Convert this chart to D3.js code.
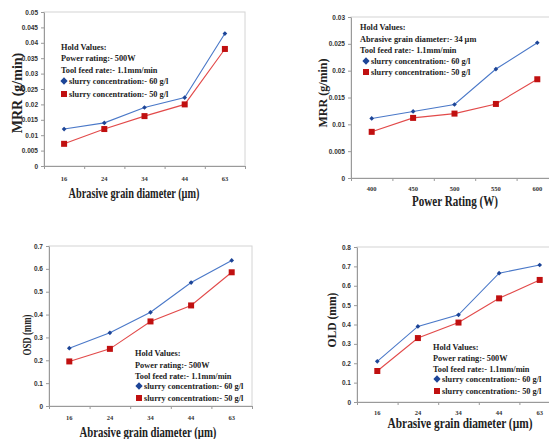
<!DOCTYPE html>
<html>
<head>
<meta charset="utf-8">
<script src="https://cdn.jsdelivr.net/npm/d3@7"></script>
<style>
  body { margin: 0; background: #fff; }
  svg { display: block; font-family: "Liberation Serif", "DejaVu Serif", serif; font-weight: bold; }
</style>
</head>
<body>
<div id="chart"></div>
<script>
const W = 549, H = 439

// data
const grainSizes = ["16", "24", "34", "44", "63"]
const powerRatings = ["400", "450", "500", "550", "600"]

const mrrGrain60 = [0.012, 0.014, 0.019, 0.0222, 0.043]
const mrrGrain50 = [0.0072, 0.012, 0.0162, 0.020, 0.038]
const mrrPower60 = [0.0111, 0.0124, 0.0137, 0.0203, 0.0252]
const mrrPower50 = [0.0086, 0.0112, 0.0120, 0.0138, 0.0184]
const osd60 = [0.253, 0.32, 0.41, 0.54, 0.637]
const osd50 = [0.195, 0.25, 0.37, 0.44, 0.585]
const old60 = [0.21, 0.39, 0.45, 0.665, 0.707]
const old50 = [0.16, 0.33, 0.41, 0.535, 0.63]

const seriesNames = ["slurry concentration:- 60 g/l", "slurry concentration:- 50 g/l"]
const holdGrain = ["Hold Values:", "Power rating:- 500W", "Tool feed rate:- 1.1mm/min"]
const holdPower = ["Hold Values:", "Abrasive grain diameter:- 34 µm", "Tool feed rate:- 1.1mm/min"]

const BLUE_LINE = "#4a78c8", BLUE_MARK = "#1d4597"
const RED_LINE = "#e24a4a", RED_MARK = "#c01010"

const svg = d3.select("#chart").append("svg")
    .attr("width", W)
    .attr("height", H)

function fmt(d) {
    return d === 0 ? "0" : String(+d.toFixed(3))
}

// squeeze a title horizontally to the width seen in the figure
function squeezedTitle(g, label, cx, cy, len, fs, rot) {
    const t = g.append("text")
        .attr("text-anchor", "middle")
        .attr("font-size", fs)
        .attr("fill", "#222")
        .text(label)
    const sx = Math.min(1, len / t.node().getComputedTextLength())
    t.attr("transform", `translate(${cx},${cy})${rot ? " rotate(-90)" : ""} scale(${sx},1)`)
}

function drawPanel(p) {
    const g = svg.append("g")

    const x = d3.scaleBand().domain(p.cats).range([p.x0, p.x1]).padding(0)
    const xi = d3.scaleLinear().domain([0, p.cats.length]).range([p.x0, p.x1])
    const y = d3.scaleLinear().domain([0, p.yMax]).range([p.y1, p.y0])

    // plot frame
    g.append("rect")
        .attr("x", p.x0).attr("y", p.y0)
        .attr("width", p.x1 - p.x0).attr("height", p.y1 - p.y0)
        .attr("fill", "none").attr("stroke", "#d4d4d4").attr("stroke-width", 1)

    const yAxis = g.append("g")
        .attr("transform", `translate(${p.x0},0)`)
        .call(d3.axisLeft(y).tickValues(d3.range(0, p.yMax + p.yStep / 2, p.yStep)).tickSize(3).tickSizeOuter(0).tickFormat(fmt))
    yAxis.selectAll("text").attr("font-size", 6.5).attr("fill", "#333").attr("x", -6)

    g.append("g")
        .attr("transform", `translate(0,${p.y1})`)
        .call(d3.axisBottom(xi).ticks(p.cats.length).tickSize(3).tickSizeOuter(0).tickFormat(""))

    g.selectAll(".domain, .tick line").attr("stroke", "#9a9a9a")

    g.append("g").selectAll("text")
        .data(p.cats)
        .join("text")
        .attr("x", d => x(d) + x.bandwidth() / 2)
        .attr("y", p.tickY)
        .attr("text-anchor", "middle")
        .attr("font-size", 6.5)
        .attr("fill", "#333")
        .text(d => d)

    // axis titles
    squeezedTitle(g, p.xLabel, p.xTitle[0], p.xTitle[1], p.xTitle[2], p.xTitle[3], false)
    squeezedTitle(g, p.yLabel, p.yTitle[0], p.yTitle[1], p.yTitle[2], p.yTitle[3], true)

    const line = d3.line()
        .x((d, i) => x(p.cats[i]) + x.bandwidth() / 2)
        .y(d => y(d))

    // 50 g/l series
    g.append("path").datum(p.s50)
        .attr("d", line).attr("fill", "none")
        .attr("stroke", RED_LINE).attr("stroke-width", 1.1)
    g.append("g").selectAll("rect")
        .data(p.s50)
        .join("rect")
        .attr("x", (d, i) => x(p.cats[i]) + x.bandwidth() / 2 - 3)
        .attr("y", d => y(d) - 3)
        .attr("width", 6).attr("height", 6)
        .attr("fill", RED_MARK)

    // 60 g/l series
    g.append("path").datum(p.s60)
        .attr("d", line).attr("fill", "none")
        .attr("stroke", BLUE_LINE).attr("stroke-width", 1.1)
    g.append("g").selectAll("path")
        .data(p.s60)
        .join("path")
        .attr("d", d3.symbol(d3.symbolDiamond2, 14))
        .attr("transform", (d, i) => `translate(${x(p.cats[i]) + x.bandwidth() / 2},${y(d)})`)
        .attr("fill", BLUE_MARK)

    // hold values / legend
    const lg = g.append("g").attr("font-size", 8.3).attr("fill", "#222")
    lg.selectAll("text.hold")
        .data(p.hold)
        .join("text")
        .attr("class", "hold")
        .attr("x", p.legX)
        .attr("y", (d, i) => p.legY[i] + 3)
        .text(d => d)

    lg.append("path")
        .attr("d", d3.symbol(d3.symbolDiamond2, 34))
        .attr("transform", `translate(${p.markX},${p.legY[3]})`)
        .attr("fill", BLUE_MARK)
    lg.append("rect")
        .attr("x", p.markX - 3).attr("y", p.legY[4] - 3)
        .attr("width", 6).attr("height", 6)
        .attr("fill", RED_MARK)
    lg.selectAll("text.ser")
        .data(seriesNames)
        .join("text")
        .attr("class", "ser")
        .attr("x", p.markX + 5)
        .attr("y", (d, i) => p.legY[3 + i] + 3)
        .text(d => d)
}

drawPanel({
    cats: grainSizes, s60: mrrGrain60, s50: mrrGrain50,
    x0: 44, x1: 245, y0: 12, y1: 166, yMax: 0.05, yStep: 0.005, tickY: 181,
    xLabel: "Abrasive grain diameter (µm)", xTitle: [134, 198, 131, 14],
    yLabel: "MRR (g/min)", yTitle: [22, 93, 95, 14],
    hold: holdGrain, legX: 61, legY: [47, 58, 70, 81, 94], markX: 64
})

drawPanel({
    cats: powerRatings, s60: mrrPower60, s50: mrrPower50,
    x0: 351, x1: 558, y0: 17, y1: 178, yMax: 0.03, yStep: 0.005, tickY: 191,
    xLabel: "Power Rating (W)", xTitle: [455, 206, 86, 14],
    yLabel: "MRR (g/min)", yTitle: [327, 93, 70, 12],
    hold: holdPower, legX: 360, legY: [27, 39, 50, 61, 72], markX: 366
})

drawPanel({
    cats: grainSizes, s60: osd60, s50: osd50,
    x0: 49, x1: 252, y0: 246, y1: 406, yMax: 0.7, yStep: 0.1, tickY: 420,
    xLabel: "Abrasive grain diameter (µm)", xTitle: [148, 437, 137, 14],
    yLabel: "OSD (mm)", yTitle: [31, 335, 41, 12],
    hold: holdGrain, legX: 135, legY: [353, 365, 376, 386, 398], markX: 139
})

drawPanel({
    cats: grainSizes, s60: old60, s50: old50,
    x0: 357, x1: 560, y0: 247, y1: 402, yMax: 0.8, yStep: 0.1, tickY: 415,
    xLabel: "Abrasive grain diameter (µm)", xTitle: [460, 428, 145, 15],
    yLabel: "OLD (mm)", yTitle: [336, 320, 55, 13],
    hold: holdGrain, legX: 433, legY: [347, 358, 369, 379, 391], markX: 437
})
</script>
</body>
</html>
